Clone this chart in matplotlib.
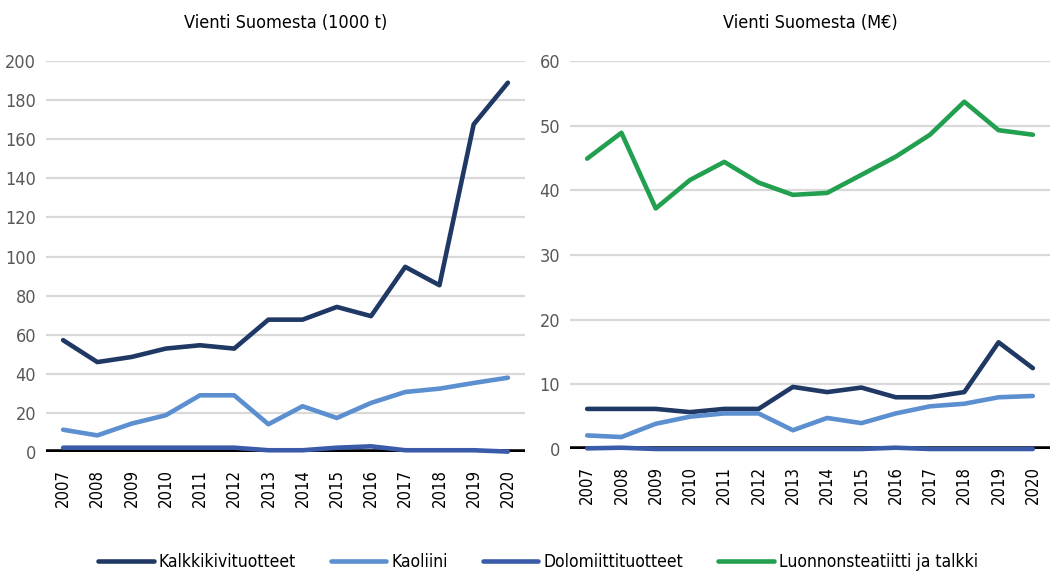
import matplotlib
matplotlib.use("Agg")
import matplotlib.pyplot as plt

plt.rcParams['font.family'] = ['DejaVu Sans']
plt.rcParams['font.stretch'] = 'condensed'

years = [str(y) for y in range(2007, 2021)]

# Vienti Suomesta (1000 t)
kalkki_t = [57.2, 46.0, 48.6, 52.9, 54.6, 52.9, 67.7, 67.7, 74.2, 69.5, 94.7, 85.3, 167.6, 188.9]
kaoliini_t = [11.4, 8.5, 14.5, 18.8, 29.0, 29.0, 14.2, 23.4, 17.4, 25.1, 30.7, 32.4, 35.3, 38.0]
dolomiitti_t = [2.2, 2.2, 2.2, 2.2, 2.2, 2.2, 0.9, 0.9, 2.2, 2.9, 0.9, 0.9, 0.9, 0.2]

# Vienti Suomesta (M€)
kalkki_me = [6.2, 6.2, 6.2, 5.7, 6.2, 6.2, 9.6, 8.8, 9.5, 8.0, 8.0, 8.8, 16.5, 12.5]
kaoliini_me = [2.1, 1.85, 3.9, 5.0, 5.5, 5.5, 2.9, 4.8, 4.0, 5.5, 6.6, 7.0, 8.0, 8.2]
dolomiitti_me = [0.1, 0.2, 0.0, 0.0, 0.0, 0.0, 0.0, 0.0, 0.0, 0.2, 0.0, 0.0, 0.0, 0.0]
talkki_me = [44.9, 48.9, 37.2, 41.6, 44.4, 41.2, 39.3, 39.6, 42.4, 45.2, 48.6, 53.7, 49.3, 48.6]

c_kalkki = '#1F3864'
c_kaoliini = '#5B8FD0'
c_dolo = '#3A5BA9'
c_talkki = '#22A050'

fig = plt.figure(figsize=(10.55, 5.78), dpi=100)
ax1 = fig.add_axes([46 / 1055, 1 - 452 / 578, 479 / 1055, 391 / 578])
ax2 = fig.add_axes([570 / 1055, 1 - 449 / 578, 480 / 1055, 388 / 578])

x = range(len(years))
lw = 3.3

ax1.plot(x, kalkki_t, color=c_kalkki, lw=lw, solid_capstyle='round', zorder=3, clip_on=False)
ax1.plot(x, kaoliini_t, color=c_kaoliini, lw=lw, solid_capstyle='round', zorder=3, clip_on=False)
ax1.plot(x, dolomiitti_t, color=c_dolo, lw=lw, solid_capstyle='round', zorder=3, clip_on=False)
ax1.set_ylim(0, 200)
ax1.set_yticks(range(0, 201, 20))

ax2.plot(x, kalkki_me, color=c_kalkki, lw=lw, solid_capstyle='round', zorder=3, clip_on=False, label='Kalkkikivituotteet')
ax2.plot(x, kaoliini_me, color=c_kaoliini, lw=lw, solid_capstyle='round', zorder=3, clip_on=False, label='Kaoliini')
ax2.plot(x, dolomiitti_me, color=c_dolo, lw=lw, solid_capstyle='round', zorder=3, clip_on=False, label='Dolomiittituotteet')
ax2.plot(x, talkki_me, color=c_talkki, lw=lw, solid_capstyle='round', zorder=3, clip_on=False, label='Luonnonsteatiitti ja talkki')
ax2.set_ylim(0, 60)
ax2.set_yticks(range(0, 61, 10))

for ax, title in [(ax1, 'Vienti Suomesta (1000 t)'), (ax2, 'Vienti Suomesta (M€)')]:
    ax.set_xlim(-0.5, 13.5)
    ax.set_xticks(list(x))
    ax.set_xticklabels(years, rotation=90, fontsize=12)
    ax.tick_params(axis='x', length=0, pad=12)
    ax.tick_params(axis='y', length=0, pad=7, labelsize=13, labelcolor='#595959')
    for s in ax.spines.values():
        s.set_visible(False)
    ax.grid(axis='y', color='#D9D9D9', lw=1.6)
    ax.set_axisbelow(True)
    ax.axhline(0, color='black', lw=4, zorder=2)
    ax.set_title(title, fontsize=13, pad=24)

fig.legend(*ax2.get_legend_handles_labels(), loc='center', bbox_to_anchor=(0.51, 1 - 562 / 578),
           ncol=4, frameon=False, fontsize=12.5, handlelength=3.2, handletextpad=0.3,
           columnspacing=2.0)

fig.savefig('out.png', dpi=100)
